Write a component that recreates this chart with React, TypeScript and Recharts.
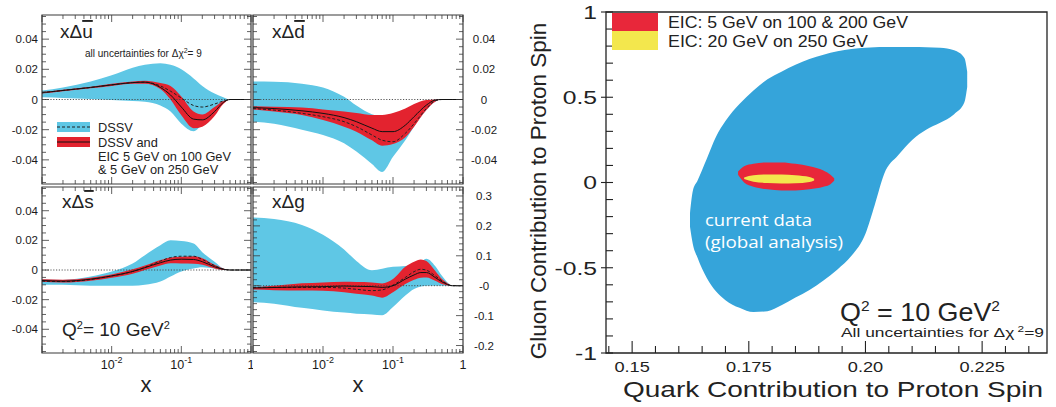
import React from 'react';
import { ComposedChart, Area, Line, XAxis, YAxis, ReferenceLine, ReferenceArea } from 'recharts';

const FONT = '"Liberation Sans", Arial, Helvetica, sans-serif';
const CYAN = '#5fc7e5';
const RED = '#e3232f';
const BLOB = '#35a4da';
const YELLOW = '#f3e74d';
const INK = '#3a3a3a';

// ---- left panels: x grid + bands ----
const pdfX = [0.001, 0.002, 0.005, 0.01, 0.02, 0.03, 0.05, 0.07, 0.1, 0.15, 0.2, 0.3, 0.4, 0.5, 0.7, 1];

// x * delta ubar
const ubarDssvLo = [0.0015, 0.001, 0.0003, -0.0003, -0.001, -0.0015, -0.004, -0.008, -0.016, -0.021, -0.016, -0.006, -0.002, 0, 0, 0];
const ubarDssvHi = [0.006, 0.008, 0.012, 0.016, 0.021, 0.023, 0.024, 0.023, 0.02, 0.014, 0.009, 0.004, 0.0015, 0, 0, 0];
const ubarEicLo = [0.004, 0.0055, 0.0075, 0.009, 0.0105, 0.0105, 0.007, 0.0, -0.0105, -0.019, -0.018, -0.011, -0.003, 0, 0, 0];
const ubarEicHi = [0.005, 0.0065, 0.0085, 0.0105, 0.012, 0.0125, 0.011, 0.009, 0.002, -0.008, -0.01, -0.005, -0.001, 0, 0, 0];
const ubarFit = [0.0045, 0.006, 0.008, 0.0097, 0.0112, 0.0115, 0.008, 0.003, -0.005, -0.013, -0.0135, -0.008, -0.002, 0, 0, 0];
const ubarDssv = [0.0045, 0.006, 0.008, 0.0097, 0.0112, 0.0115, 0.009, 0.0055, 0.001, -0.004, -0.005, -0.003, -0.001, 0, 0, 0];

// x * delta dbar
const dbarDssvLo = [-0.0147, -0.016, -0.02, -0.0235, -0.029, -0.0345, -0.0427, -0.048, -0.038, -0.027, -0.018, -0.007, -0.0015, 0, 0, 0];
const dbarDssvHi = [0.012, 0.0118, 0.0105, 0.008, 0.0018, -0.004, -0.0097, -0.011, -0.012, -0.011, -0.007, -0.002, 0, 0, 0, 0];
const dbarEicLo = [-0.0066, -0.008, -0.0103, -0.0136, -0.018, -0.0213, -0.027, -0.0306, -0.0295, -0.025, -0.018, -0.007, -0.0015, 0, 0, 0];
const dbarEicHi = [-0.0044, -0.0048, -0.0053, -0.0066, -0.008, -0.009, -0.0103, -0.0103, -0.009, -0.006, -0.003, -0.0004, 0, 0, 0, 0];
const dbarFit = [-0.0053, -0.006, -0.0075, -0.0092, -0.012, -0.0147, -0.019, -0.0213, -0.0213, -0.017, -0.0114, -0.0037, -0.0004, 0, 0, 0];
const dbarDssv = [-0.006, -0.007, -0.0092, -0.0114, -0.0147, -0.018, -0.0235, -0.027, -0.028, -0.0224, -0.016, -0.006, -0.0008, 0, 0, 0];

// x * delta sbar
const sbarDssvLo = [-0.01, -0.01, -0.0107, -0.0107, -0.0107, -0.01, -0.0078, -0.0044, -0.001, 0.001, 0.0018, 0.001, 0, 0, 0, 0];
const sbarDssvHi = [-0.0062, -0.0067, -0.0044, -0.001, 0.0044, 0.01, 0.0167, 0.02, 0.0196, 0.0178, 0.012, 0.0056, 0.001, 0, 0, 0];
const sbarEicLo = [-0.008, -0.0085, -0.0072, -0.0052, -0.0025, 0.0, 0.003, 0.0045, 0.0044, 0.0042, 0.0035, 0.001, 0, 0, 0, 0];
const sbarEicHi = [-0.0062, -0.0065, -0.0052, -0.003, 0.0005, 0.003, 0.0067, 0.0085, 0.0089, 0.0092, 0.008, 0.0035, 0.001, 0, 0, 0];
const sbarFit = [-0.0071, -0.0075, -0.0062, -0.004, -0.001, 0.0016, 0.0049, 0.0067, 0.0073, 0.0071, 0.0056, 0.0022, 0.0005, 0, 0, 0];
const sbarDssv = [-0.0075, -0.0078, -0.0064, -0.004, -0.001, 0.0018, 0.006, 0.0084, 0.0093, 0.0093, 0.0071, 0.003, 0.0006, 0, 0, 0];

// x * delta g
const gX = [0.001, 0.002, 0.005, 0.01, 0.02, 0.03, 0.05, 0.07, 0.1, 0.15, 0.2, 0.25, 0.3, 0.4, 0.5, 0.6, 0.7, 1];
const gDssvLo = [-0.055, -0.06, -0.074, -0.0825, -0.09, -0.0935, -0.096, -0.099, -0.0715, -0.033, -0.011, -0.003, 0, 0, 0, 0, 0, 0];
const gDssvHi = [0.228, 0.223, 0.203, 0.17, 0.121, 0.083, 0.052, 0.057, 0.063, 0.066, 0.07, 0.08, 0.09, 0.066, 0.033, 0.011, 0, 0];
const gEicLo = [-0.013, -0.015, -0.016, -0.0165, -0.022, -0.027, -0.033, -0.04, -0.022, 0.0055, 0.02, 0.027, 0.0275, 0.0165, 0.0055, 0.001, 0, 0];
const gEicHi = [-0.0055, 0.0, 0.008, 0.011, 0.013, 0.012, 0.011, 0.0077, 0.022, 0.063, 0.08, 0.088, 0.0825, 0.05, 0.022, 0.008, 0, 0];
const gFit = [-0.0077, -0.006, -0.004, -0.0033, -0.001, -0.002, -0.003, -0.0055, 0, 0.022, 0.036, 0.044, 0.044, 0.0275, 0.013, 0.004, 0, 0];
const gDssv = [-0.0055, -0.0055, -0.0055, -0.0055, -0.008, -0.012, -0.0165, -0.014, 0.002, 0.0275, 0.047, 0.055, 0.052, 0.033, 0.0165, 0.005, 0, 0];

// axis ticks
const quarkMajors = [-0.04, -0.02, 0, 0.02, 0.04];
const quarkLabels = ['-0.04', '-0.02', '0', '0.02', '0.04'];
const gluonMajors = [-0.2, -0.1, 0, 0.1, 0.2, 0.3];
const gluonLabels = ['-0.2', '-0.1', '-0', '0.1', '0.2', '0.3'];

// ---- right plot: contour regions (upper/lower edge per x) ----
const blobX = [0.1624, 0.163, 0.164, 0.166, 0.168, 0.17, 0.173, 0.176, 0.179, 0.182, 0.185, 0.188, 0.191, 0.194, 0.197, 0.2, 0.202, 0.204, 0.207, 0.21, 0.213, 0.216, 0.219, 0.2212, 0.2218];
const blobLo = [-0.26, -0.36, -0.44, -0.56, -0.64, -0.69, -0.735, -0.76, -0.755, -0.72, -0.675, -0.63, -0.575, -0.51, -0.43, -0.3, -0.13, 0.05, 0.16, 0.25, 0.31, 0.35, 0.4, 0.47, 0.56];
const blobHi = [-0.18, -0.05, 0.01, 0.14, 0.27, 0.36, 0.46, 0.54, 0.605, 0.65, 0.69, 0.725, 0.75, 0.77, 0.783, 0.79, 0.793, 0.795, 0.795, 0.795, 0.793, 0.79, 0.775, 0.73, 0.65];
const redX = [0.1727, 0.174, 0.176, 0.179, 0.182, 0.185, 0.188, 0.191, 0.1925, 0.1933];
const redLo = [0.045, 0.0, -0.025, -0.04, -0.047, -0.047, -0.04, -0.025, -0.01, 0.01];
const redHi = [0.065, 0.095, 0.11, 0.118, 0.118, 0.11, 0.095, 0.07, 0.045, 0.025];
const yelX = [0.174, 0.176, 0.179, 0.182, 0.185, 0.188, 0.189];
const yelLo = [0.02, 0.005, -0.003, -0.006, -0.005, 0.003, 0.012];
const yelHi = [0.03, 0.042, 0.047, 0.047, 0.043, 0.032, 0.022];

const spinXMajors = [0.15, 0.175, 0.2, 0.225];
const spinXLabels = ['0.15', '0.175', '0.20', '0.225'];
const spinYMajors = [-1, -0.5, 0, 0.5, 1];
const spinYLabels = ['-1', '-0.5', '0', '0.5', '1'];

const steps = (a: number, b: number, s: number) => {
  const out: number[] = [];
  for (let v = a; v <= b + s / 100; v += s) out.push(Math.round(v * 1e6) / 1e6);
  return out;
};
const logTicks = [
  ...[0.001, 0.01, 0.1].flatMap((d) => [1, 2, 3, 4, 5, 6, 7, 8, 9].map((k) => Math.round(k * d * 1e6) / 1e6)),
  1,
];
const isIn = (list: number[], v: number) => list.findIndex((m) => Math.abs(m - v) < 1e-7);

const makeRows = (xs: number[], lo: number[], hi: number[], eLo: number[], eHi: number[], fit: number[], mid: number[]) =>
  xs.map((x, i) => ({ x, dssv: [lo[i], hi[i]], eic: [eLo[i], eHi[i]], fit: fit[i], mid: mid[i] }));

const zip = (xs: number[], lo: number[], hi: number[]) => xs.map((x, i) => ({ x, r: [lo[i], hi[i]] }));

const LogTick = (p: any) => {
  const { x, y, payload, h, showLabel } = p;
  const v = payload.value;
  const lg = Math.log10(v);
  const major = Math.abs(lg - Math.round(lg)) < 1e-6;
  const len = major ? 7 : 4;
  return (
    <g>
      <line x1={x} x2={x} y1={y} y2={y - len} stroke={INK} strokeWidth={0.8} />
      <line x1={x} x2={x} y1={y - h} y2={y - h + len} stroke={INK} strokeWidth={0.8} />
      {showLabel && major && lg > -2.5 && lg < -0.5 && (
        <text x={x} y={y + 16} textAnchor="middle" fontSize={12.5} fill="#1a1a1a" fontFamily={FONT}>
          10<tspan dy={-6} fontSize={9}>{Math.round(lg)}</tspan>
        </text>
      )}
      {showLabel && v === 1 && (
        <text x={x} y={y + 16} textAnchor="middle" fontSize={12.5} fill="#1a1a1a" fontFamily={FONT}>1</text>
      )}
    </g>
  );
};

const PanelYTick = (p: any) => {
  const { x, y, payload, w, side, majors, labels } = p;
  const idx = isIn(majors, payload.value);
  const len = idx >= 0 ? 7 : 4;
  const xl = side === 'left' ? x : x - w;
  const xr = xl + w;
  return (
    <g>
      <line x1={xl} x2={xl + len} y1={y} y2={y} stroke={INK} strokeWidth={0.8} />
      <line x1={xr} x2={xr - len} y1={y} y2={y} stroke={INK} strokeWidth={0.8} />
      {idx >= 0 && (
        <text
          x={side === 'left' ? xl - 4 : xr + 21}
          y={y}
          dy="0.36em"
          textAnchor={side === 'left' ? 'end' : 'middle'}
          fontSize={11.5}
          fill="#1a1a1a"
          fontFamily={FONT}
        >
          {labels[idx]}
        </text>
      )}
    </g>
  );
};

type PanelProps = {
  x: number;
  y: number;
  w: number;
  h: number;
  side: 'left' | 'right';
  showX: boolean;
  rows: any[];
  yDomain: [number, number];
  yTicks: number[];
  majors: number[];
  labels: string[];
};

const Panel = ({ x, y, w, h, side, showX, rows, yDomain, yTicks, majors, labels }: PanelProps) => {
  const yw = 44;
  const xh = showX ? 26 : 2;
  const margin = { top: 2, bottom: 0, left: side === 'right' ? 2 : 0, right: side === 'left' ? 2 : 0 };
  return (
    <div style={{ position: 'absolute', left: side === 'left' ? x - yw : x - 2, top: y - 2 }}>
      <ComposedChart width={w + yw + 2} height={h + 2 + xh} data={rows} margin={margin}>
        <XAxis
          dataKey="x"
          type="number"
          scale="log"
          domain={[0.001, 1]}
          allowDataOverflow
          ticks={logTicks}
          interval={0}
          tickSize={0}
          tickMargin={0}
          axisLine={false}
          height={xh}
          tick={(p: any) => <LogTick {...p} h={h} showLabel={showX} />}
        />
        <YAxis
          type="number"
          domain={yDomain}
          allowDataOverflow
          orientation={side}
          width={yw}
          ticks={yTicks}
          interval={0}
          tickSize={0}
          tickMargin={0}
          axisLine={false}
          tick={(p: any) => <PanelYTick {...p} w={w} side={side} majors={majors} labels={labels} />}
        />
        <Area dataKey="dssv" type="monotone" fill={CYAN} fillOpacity={1} stroke="none" isAnimationActive={false} />
        <ReferenceLine y={0} stroke="#444" strokeDasharray="1.2 1.6" strokeWidth={0.9} />
        <Area dataKey="eic" type="monotone" fill={RED} fillOpacity={1} stroke="none" isAnimationActive={false} />
        <Line dataKey="mid" type="monotone" stroke="#222" strokeWidth={1} strokeDasharray="3 2" dot={false} isAnimationActive={false} />
        <Line dataKey="fit" type="monotone" stroke="#111" strokeWidth={1} dot={false} isAnimationActive={false} />
        <ReferenceArea x1={0.001} x2={1} y1={yDomain[0]} y2={yDomain[1]} fill="none" stroke={INK} strokeWidth={1.2} ifOverflow="visible" />
      </ComposedChart>
    </div>
  );
};

const SpinXTick = (p: any) => {
  const { x, y, payload } = p;
  const idx = isIn(spinXMajors, payload.value);
  const len = idx >= 0 ? 12 : 7;
  return (
    <g>
      <line x1={x} x2={x} y1={y} y2={y - len} stroke="#222" strokeWidth={1.1} />
      {idx >= 0 && (
        <g transform={`translate(${x},${y + 19}) scale(1.3,1)`}>
          <text x={0} y={0} textAnchor="middle" fontSize={14} fill="#222" fontFamily={FONT}>{spinXLabels[idx]}</text>
        </g>
      )}
    </g>
  );
};

const SpinYTick = (p: any) => {
  const { x, y, payload } = p;
  const idx = isIn(spinYMajors, payload.value);
  return (
    <g>
      <line x1={idx >= 0 ? x - 5 : x} x2={x + 7} y1={y} y2={y} stroke="#222" strokeWidth={1.1} />
      {idx >= 0 && (
        <g transform={`translate(${x - 9},${y}) scale(1.3,1)`}>
          <text x={0} y={0} dy="0.36em" textAnchor="end" fontSize={19} fill="#222" fontFamily={FONT}>{spinYLabels[idx]}</text>
        </g>
      )}
    </g>
  );
};

const SpinChart = () => {
  const domX: [number, number] = [0.1444, 0.2389];
  return (
    <div style={{ position: 'absolute', left: 555, top: 0 }}>
      <ComposedChart width={496} height={383} margin={{ top: 12, right: 4, left: 0, bottom: 0 }}>
        <XAxis
          dataKey="x"
          type="number"
          domain={domX}
          allowDataOverflow
          ticks={steps(0.145, 0.235, 0.005)}
          interval={0}
          tickSize={0}
          tickMargin={0}
          axisLine={false}
          height={30}
          tick={(p: any) => <SpinXTick {...p} />}
        />
        <YAxis
          type="number"
          domain={[-1, 1]}
          allowDataOverflow
          width={51}
          ticks={steps(-1, 1, 0.1)}
          interval={0}
          tickSize={0}
          tickMargin={0}
          axisLine={false}
          tick={(p: any) => <SpinYTick {...p} />}
        />
        <Area data={zip(blobX, blobLo, blobHi)} dataKey="r" type="monotone" fill={BLOB} fillOpacity={1} stroke="none" isAnimationActive={false} />
        <Area data={zip(redX, redLo, redHi)} dataKey="r" type="monotone" fill="#e8273a" fillOpacity={1} stroke="none" isAnimationActive={false} />
        <Area data={zip(yelX, yelLo, yelHi)} dataKey="r" type="monotone" fill={YELLOW} fillOpacity={1} stroke="none" isAnimationActive={false} />
        <ReferenceArea x1={domX[0]} x2={domX[1]} y1={-1} y2={1} fill="none" stroke="#222" strokeWidth={1.3} ifOverflow="visible" />
      </ComposedChart>
    </div>
  );
};

const Overlay = () => (
  <svg width={1056} height={407} style={{ position: 'absolute', left: 0, top: 0, pointerEvents: 'none' }} fontFamily={FONT} fill="#222">
    {/* panel titles */}
    <text x={60} y={38} fontSize={19}>xΔ<tspan style={{ textDecoration: 'overline' }}>u</tspan></text>
    <text x={272} y={38} fontSize={19}>xΔ<tspan style={{ textDecoration: 'overline' }}>d</tspan></text>
    <text x={62} y={208} fontSize={19}>xΔ<tspan style={{ textDecoration: 'overline' }}>s</tspan></text>
    <text x={272} y={208} fontSize={19}>xΔg</text>
    <text x={85} y={57} fontSize={10}>
      all uncertainties for Δχ<tspan dy={-4} fontSize={7}>2</tspan><tspan dy={4}>= 9</tspan>
    </text>
    {/* left legend */}
    <rect x={57} y={122} width={33} height={10} fill={CYAN} />
    <line x1={57} x2={90} y1={127} y2={127} stroke="#222" strokeDasharray="3 2" />
    <rect x={57} y={137} width={33} height={10} fill={RED} />
    <line x1={57} x2={90} y1={142} y2={142} stroke="#111" />
    <text x={98} y={132} fontSize={12.8}>DSSV</text>
    <text x={98} y={147} fontSize={12.8}>DSSV and</text>
    <text x={98} y={161} fontSize={12.8}>EIC 5 GeV on 100 GeV</text>
    <text x={98} y={174} fontSize={12.8}>&amp; 5 GeV on 250 GeV</text>
    <text x={62} y={336} fontSize={19}>
      Q<tspan dy={-7} fontSize={11}>2</tspan><tspan dy={7}>= 10 GeV</tspan><tspan dy={-7} fontSize={11}>2</tspan>
    </text>
    <text x={146} y={392} fontSize={22} textAnchor="middle">x</text>
    <text x={358} y={392} fontSize={22} textAnchor="middle">x</text>
    {/* right legend */}
    <rect x={612} y={13} width={46} height={18} fill="#e8273a" />
    <rect x={612} y={31} width={46} height={19} fill={YELLOW} />
    <text x={668} y={28} fontSize={16} textLength={240} lengthAdjust="spacingAndGlyphs">EIC: 5 GeV on 100 &amp; 200 GeV</text>
    <text x={668} y={47} fontSize={16} textLength={200} lengthAdjust="spacingAndGlyphs">EIC: 20 GeV on 250 GeV</text>
    <text x={705} y={226} fontSize={17} fill="#fff" fontFamily='"Open Sans", sans-serif' textLength={107} lengthAdjust="spacingAndGlyphs">current data</text>
    <text x={705} y={248} fontSize={17} fill="#fff" fontFamily='"Open Sans", sans-serif' textLength={138} lengthAdjust="spacingAndGlyphs">(global analysis)</text>
    <text x={840} y={321} fontSize={26} textLength={160} lengthAdjust="spacingAndGlyphs">
      Q<tspan dy={-10} fontSize={15}>2</tspan><tspan dy={10}> = 10 GeV</tspan><tspan dy={-10} fontSize={15}>2</tspan>
    </text>
    <text x={841} y={337} fontSize={12.5} textLength={203} lengthAdjust="spacingAndGlyphs">
      All uncertainties for Δχ<tspan dy={-5} fontSize={8.5}> 2</tspan><tspan dy={5}>=9</tspan>
    </text>
    <text transform="translate(546,191) rotate(-90)" textAnchor="middle" fontSize={22.5}>Gluon Contribution to Proton Spin</text>
    <text x={623} y={397} fontSize={22} textLength={420} lengthAdjust="spacingAndGlyphs">Quark Contribution to Proton Spin</text>
  </svg>
);

const App = () => {
  const qTicks = steps(-0.055, 0.055, 0.005);
  const gTicks = steps(-0.22, 0.32, 0.02);
  return (
    <div style={{ position: 'absolute', left: 0, top: 0, width: 1056, height: 407, background: '#fff', overflow: 'hidden', fontFamily: FONT }}>
      <Panel x={42} y={15} w={209} h={169} side="left" showX={false}
        rows={makeRows(pdfX, ubarDssvLo, ubarDssvHi, ubarEicLo, ubarEicHi, ubarFit, ubarDssv)}
        yDomain={[-0.056, 0.056]} yTicks={qTicks} majors={quarkMajors} labels={quarkLabels} />
      <Panel x={253} y={15} w={210} h={169} side="right" showX={false}
        rows={makeRows(pdfX, dbarDssvLo, dbarDssvHi, dbarEicLo, dbarEicHi, dbarFit, dbarDssv)}
        yDomain={[-0.056, 0.056]} yTicks={qTicks} majors={quarkMajors} labels={quarkLabels} />
      <Panel x={42} y={187} w={209} h={166} side="left" showX
        rows={makeRows(pdfX, sbarDssvLo, sbarDssvHi, sbarEicLo, sbarEicHi, sbarFit, sbarDssv)}
        yDomain={[-0.056, 0.056]} yTicks={qTicks} majors={quarkMajors} labels={quarkLabels} />
      <Panel x={253} y={187} w={210} h={166} side="right" showX
        rows={makeRows(gX, gDssvLo, gDssvHi, gEicLo, gEicHi, gFit, gDssv)}
        yDomain={[-0.225, 0.33]} yTicks={gTicks} majors={gluonMajors} labels={gluonLabels} />
      <SpinChart />
      <Overlay />
    </div>
  );
};

export default App;
